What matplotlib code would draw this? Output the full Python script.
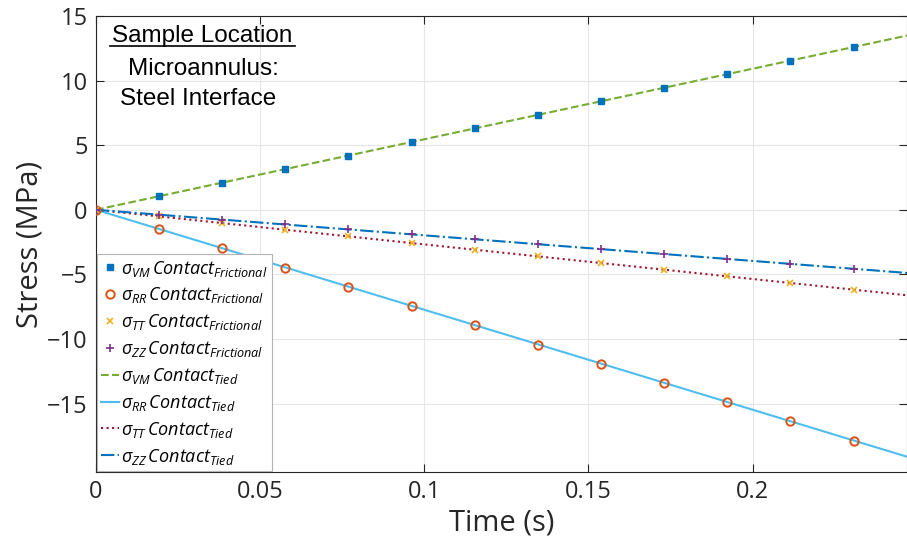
import numpy as np
import matplotlib
matplotlib.use("Agg")
import matplotlib.pyplot as plt

# marker samples (frictional contact)
t_fric = [0.0, 0.0192, 0.0385, 0.0577, 0.0769, 0.0962, 0.1154,
          0.1346, 0.1538, 0.1731, 0.1923, 0.2115, 0.2308]
vm_fric = [0.0, 1.05, 2.1, 3.15, 4.2, 5.25, 6.3, 7.35, 8.4, 9.45, 10.5, 11.55, 12.6]
rr_fric = [0.0, -1.49, -2.98, -4.47, -5.96, -7.45, -8.94, -10.43, -11.92,
           -13.41, -14.9, -16.39, -17.88]
tt_fric = [0.0, -0.52, -1.03, -1.55, -2.06, -2.58, -3.09, -3.61, -4.12,
           -4.64, -5.15, -5.67, -6.18]
zz_fric = [0.0, -0.38, -0.76, -1.14, -1.52, -1.9, -2.28, -2.66, -3.04,
           -3.42, -3.8, -4.18, -4.56]

# tied contact lines
t_tied = [0.0, 0.05, 0.1, 0.15, 0.2, 0.25]
vm_tied = [0.0, 2.73, 5.46, 8.19, 10.92, 13.65]
rr_tied = [0.0, -3.87, -7.74, -11.61, -15.48, -19.35]
tt_tied = [0.0, -1.34, -2.68, -4.02, -5.36, -6.7]
zz_tied = [0.0, -0.99, -1.98, -2.97, -3.96, -4.95]

xticks = [0, 0.05, 0.1, 0.15, 0.2]
xticklabels = ["0", "0.05", "0.1", "0.15", "0.2"]
yticks = [-15, -10, -5, 0, 5, 10, 15]

plt.rcParams['font.family'] = ['Open Sans', 'DejaVu Sans']
plt.rcParams['mathtext.fontset'] = 'custom'
plt.rcParams['mathtext.it'] = 'Open Sans:italic'
plt.rcParams['mathtext.rm'] = 'Open Sans'

fig = plt.figure(figsize=(9.07, 5.39), dpi=100)
ax = fig.add_axes([0.1058, 0.1243, 0.8942, 0.846])

ax.plot(t_tied, vm_tied, '--', color='#77AC30', lw=1.5, zorder=2)
ax.plot(t_tied, rr_tied, '-', color='#4DBEEE', lw=1.5, zorder=2)
ax.plot(t_tied, tt_tied, ':', color='#A2142F', lw=1.5, zorder=2)
ax.plot(t_tied, zz_tied, '-.', color='#0072BD', lw=1.5, zorder=2)

h1, = ax.plot(t_fric, vm_fric, 's', color='#0072BD', ms=4.5, ls='none', zorder=3)
h2, = ax.plot(t_fric, rr_fric, 'o', mfc='none', mec='#D95319', mew=1.4, ms=6, ls='none', zorder=3)
h3, = ax.plot(t_fric, tt_fric, 'x', color='#EDB120', mew=1.2, ms=5, ls='none', zorder=3)
h4, = ax.plot(t_fric, zz_fric, '+', color='#7E2F8E', mew=1.2, ms=6, ls='none', zorder=3)

ax.set_xlim(0, 0.247)
ax.set_ylim(-20.3, 15)
ax.set_xticks(xticks)
ax.set_xticklabels(xticklabels)
ax.set_yticks(yticks)
ax.grid(True, color='#e6e6e6', lw=0.8)
ax.set_axisbelow(True)
ax.tick_params(direction='in', top=True, right=True, labelsize=17,
               colors='#262626', length=6, pad=6)
for s in ax.spines.values():
    s.set_color('#262626')
    s.set_linewidth(0.8)

ax.set_xlabel('Time (s)', fontsize=21, color='#262626', labelpad=3)
ax.set_ylabel('Stress (MPa)', fontsize=21, color='#262626', labelpad=2)

lines = ax.get_lines()
labels = [r'$\sigma_{VM}\,Contact_{Frictional}$',
          r'$\sigma_{RR}\,Contact_{Frictional}$',
          r'$\sigma_{TT}\,Contact_{Frictional}$',
          r'$\sigma_{ZZ}\,Contact_{Frictional}$',
          r'$\sigma_{VM}\,Contact_{Tied}$',
          r'$\sigma_{RR}\,Contact_{Tied}$',
          r'$\sigma_{TT}\,Contact_{Tied}$',
          r'$\sigma_{ZZ}\,Contact_{Tied}$']
handles = [h1, h2, h3, h4] + list(lines[:4])
leg = ax.legend(handles, labels, loc='lower left', fontsize=13,
                handlelength=1.0, handletextpad=0.1, borderaxespad=0.05,
                labelspacing=0.38, borderpad=0.25, fancybox=False,
                framealpha=1, edgecolor='#b4b4b4')
leg.get_frame().set_linewidth(0.8)

tf = dict(transform=ax.transAxes, ha='center', va='center',
          family='Liberation Sans', fontsize=17.5, color='black')
ax.text(0.131, 0.957, 'Sample Location', **tf)
ax.plot([0.017, 0.245], [0.934, 0.934], color='black', lw=1.2,
        transform=ax.transAxes, clip_on=False)
ax.text(0.132, 0.883, 'Microannulus:', **tf)
ax.text(0.126, 0.818, 'Steel Interface', **tf)

fig.savefig('out.png', dpi=100)
